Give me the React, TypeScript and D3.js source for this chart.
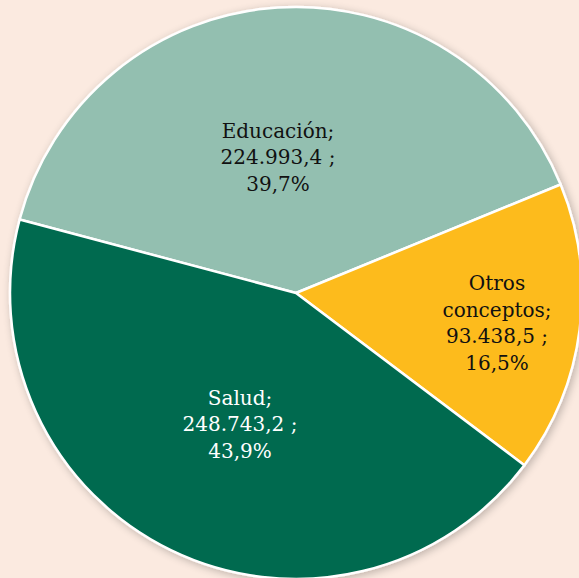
import React from "react";
import * as d3 from "d3";

const categories = ["Educación", "Otros conceptos", "Salud"];
const values = [224993.4, 93438.5, 248743.2];
const colors = ["#93bfb0", "#fdbb1f", "#006b4f"];
const textColors = ["#111111", "#111111", "#ffffff"];
const labelLines = [
  ["Educación;", "224.993,4 ;", "39,7%"],
  ["Otros", "conceptos;", "93.438,5 ;", "16,5%"],
  ["Salud;", "248.743,2 ;", "43,9%"],
];

const W = 579;
const H = 578;

export default function App() {
  const cx = 296;
  const cy = 293;
  const r = 286;
  const start = (-75.1 * Math.PI) / 180;
  const pie = d3
    .pie<number>()
    .sort(null)
    .startAngle(start)
    .endAngle(start + 2 * Math.PI)
    .value((d) => d);
  const arcs = pie(values);
  const arc = d3.arc<d3.PieArcDatum<number>>().innerRadius(0).outerRadius(r);
  const lineH = 26.5;
  const labelPos: [number, number][] = [
    [278, 157],
    [497, 323],
    [240, 424],
  ];
  return (
    <svg
      width={W}
      height={H}
      style={{ position: "absolute", left: 0, top: 0, background: "#fbeae0" }}
    >
      <defs>
        <filter id="sh" x="-10%" y="-10%" width="120%" height="120%">
          <feGaussianBlur in="SourceAlpha" stdDeviation="4" />
          <feOffset dx="2" dy="2" result="b" />
          <feComponentTransfer>
            <feFuncA type="linear" slope="0.25" />
          </feComponentTransfer>
          <feMerge>
            <feMergeNode />
            <feMergeNode in="SourceGraphic" />
          </feMerge>
        </filter>
      </defs>
      <rect x={0} y={0} width={W} height={H} fill="#fbeae0" />
      <g transform={`translate(${cx},${cy})`} filter="url(#sh)">
        {arcs.map((a, i) => (
          <path
            key={categories[i]}
            d={arc(a) || ""}
            fill={colors[i]}
            stroke="#ffffff"
            strokeWidth={2.5}
            strokeLinejoin="round"
          />
        ))}
      </g>
      {arcs.map((a, i) => {
        const [lx, ly] = labelPos[i];
        const lines = labelLines[i];
        const n = lines.length;
        return (
          <text
            key={"t" + i}
            x={lx}
            y={ly}
            textAnchor="middle"
            fontFamily="'DejaVu Serif', serif"
            fontSize={20}
            fill={textColors[i]}
          >
            {lines.map((l, j) => (
              <tspan
                key={j}
                x={lx}
                y={ly + (j - (n - 1) / 2) * lineH}
                dy="0.35em"
              >
                {l}
              </tspan>
            ))}
          </text>
        );
      })}
    </svg>
  );
}
